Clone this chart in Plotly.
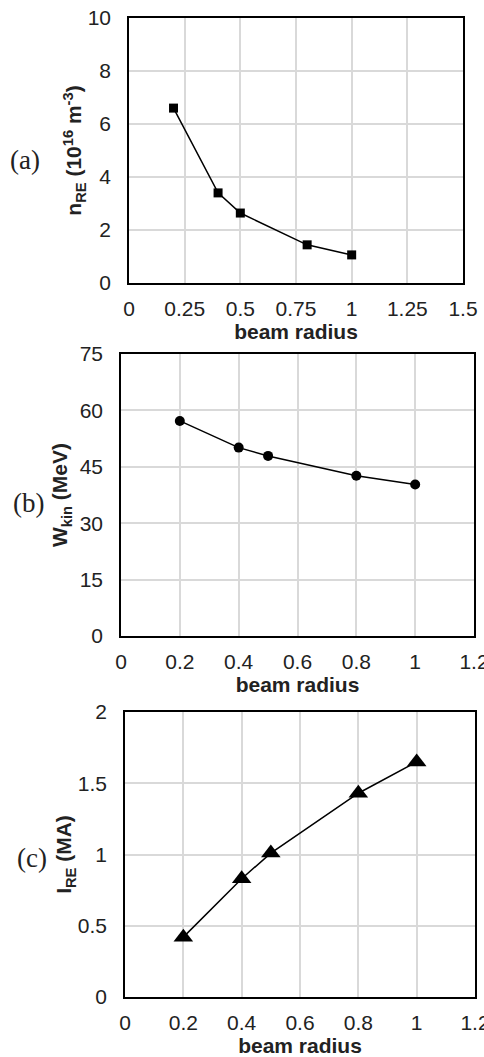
import plotly.graph_objects as go

W, H = 484, 1057

# data
radius = [0.2, 0.4, 0.5, 0.8, 1.0]
n_re = [6.6, 3.4, 2.64, 1.44, 1.06]
w_kin = [57.2, 50.1, 47.9, 42.6, 40.3]
i_re = [0.42, 0.83, 1.01, 1.43, 1.65]

panel_labels = ["(a)", "(b)", "(c)"]
y_titles = [
    "<b>n<sub>RE</sub> (10<sup>16</sup> m<sup>-3</sup>)</b>",
    "<b>W<sub>kin</sub> (MeV)</b>",
    "<b>I<sub>RE</sub> (MA)</b>",
]
x_title = "<b>beam radius</b>"

# pixel boxes: (left, right, top, bottom)
boxes = [(129, 463, 18, 283), (121, 474, 354, 636), (125, 475, 712, 997)]
xranges = [(0, 1.5, 0.25), (0, 1.2, 0.2), (0, 1.2, 0.2)]
yranges = [(0, 10, 2), (0, 75, 15), (0, 2, 0.5)]
markers = [("square", 9), ("circle", 10), ("triangle-up", 17)]
series = [n_re, w_kin, i_re]
label_pos = [(25, 160), (28, 503), (32, 858)]
ytitle_standoff = [0, 6, 0]

fig = go.Figure()
font = "Liberation Sans, Arial, sans-serif"
for i in range(3):
    sfx = "" if i == 0 else str(i + 1)
    l, r, t, b = boxes[i]
    fig.add_trace(go.Scatter(
        x=radius, y=series[i], mode="lines+markers",
        line=dict(color="black", width=1.5),
        marker=dict(symbol=markers[i][0], size=markers[i][1], color="black"),
        xaxis="x" + sfx, yaxis="y" + sfx, showlegend=False,
    ))
    x0, x1, dx = xranges[i]
    y0, y1, dy = yranges[i]
    fig.layout["xaxis" + sfx] = dict(
        domain=[l / W, r / W], anchor="y" + sfx, range=[x0, x1], dtick=dx, tick0=0,
        showgrid=True, gridcolor="#d9d9d9", gridwidth=1.5,
        showline=True, mirror=True, linecolor="black", linewidth=1.5,
        zeroline=False, ticks="", ticklabelstandoff=6, ticklabeloverflow="allow",
        tickfont=dict(family=font, size=21, color="#222"),
        title=dict(text=x_title, font=dict(family=font, size=21, color="#222"), standoff=0),
        automargin=False,
    )
    fig.layout["yaxis" + sfx] = dict(
        domain=[1 - b / H, 1 - t / H], anchor="x" + sfx, range=[y0, y1], dtick=dy, tick0=0,
        showgrid=True, gridcolor="#d9d9d9", gridwidth=1.5,
        showline=True, mirror=True, linecolor="black", linewidth=1.5,
        zeroline=False, ticks="", ticklabelstandoff=12, ticklabeloverflow="allow",
        tickfont=dict(family=font, size=21, color="#222"),
        title=dict(text=y_titles[i], font=dict(family=font, size=21, color="#222"),
                   standoff=ytitle_standoff[i]),
        automargin=False,
    )
    lx, ly = label_pos[i]
    fig.add_annotation(
        x=lx / W, y=1 - ly / H, xref="paper", yref="paper",
        text=panel_labels[i], showarrow=False, xanchor="center", yanchor="middle",
        font=dict(family="Liberation Serif, Times New Roman, serif", size=27, color="#222"),
    )

fig.update_layout(
    width=W, height=H, margin=dict(l=0, r=0, t=0, b=0),
    paper_bgcolor="white", plot_bgcolor="white",
)
fig.write_html("out.html")
